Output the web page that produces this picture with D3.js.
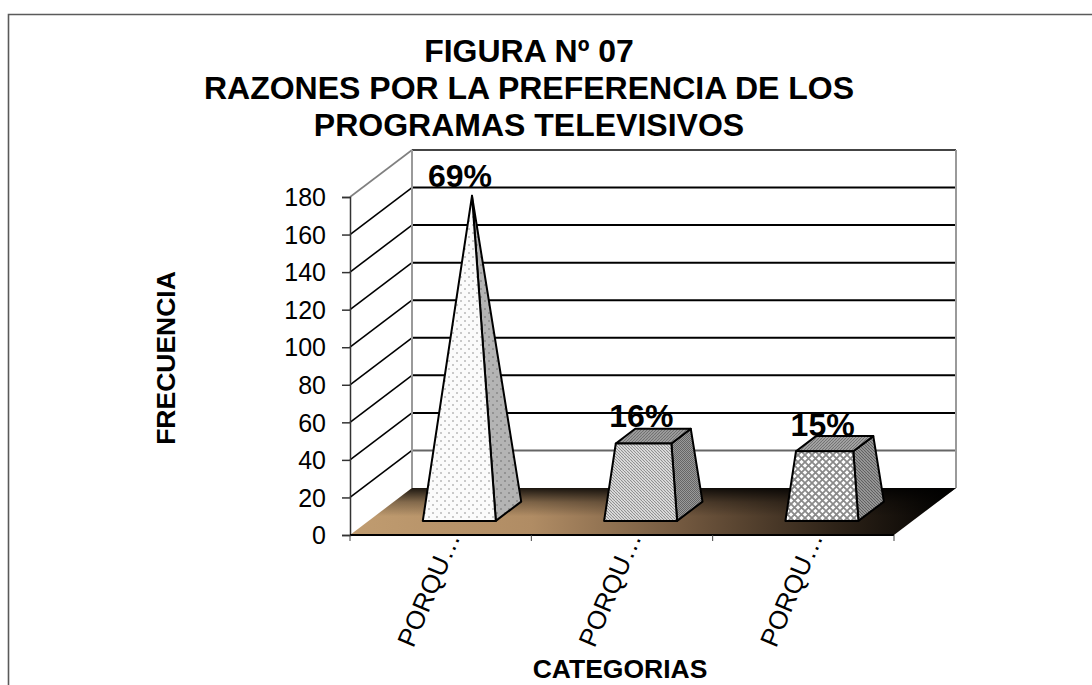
<!DOCTYPE html>
<html><head><meta charset="utf-8">
<script src="https://cdnjs.cloudflare.com/ajax/libs/d3/7.8.5/d3.min.js"></script>
<style>html,body{margin:0;padding:0;background:#fff}svg{display:block}text{font-family:"Liberation Sans",Arial,sans-serif;fill:#000}</style>
</head><body><svg id="c" width="1092" height="685"></svg>
<script>
const categories = ["PORQU…","PORQU…","PORQU…"];
const values = [168,40,36];
const percentLabels = ["69%","16%","15%"];
const yTicks = [0,20,40,60,80,100,120,140,160,180];
const titleLines = ["FIGURA Nº 07","RAZONES POR LA PREFERENCIA DE LOS","PROGRAMAS TELEVISIVOS"];
const xTitle = "CATEGORIAS", yTitle = "FRECUENCIA";

const svg = d3.select("#c");
const x = d3.scaleBand().domain(d3.range(categories.length)).range([350,894]);
const y = d3.scaleLinear().domain([0,180]).range([535,197]);
const DX = 62, DY = -47;
const barW = 73, z0 = 0.3, z1 = 0.71;
const vMax = d3.max(values);
const P = (px,py,z)=>[px+z*DX, py+z*DY];
const pts = a=>a.map(p=>p.map(v=>v.toFixed(1)).join(",")).join(" ");

const defs = svg.append("defs");
const pat=(id,s,bg,draw)=>{const p=defs.append("pattern").attr("id",id).attr("patternUnits","userSpaceOnUse").attr("width",s).attr("height",s);
  p.append("rect").attr("width",s).attr("height",s).attr("fill",bg);draw(p);};
pat("dotsF",8,"#fbfbfb",p=>{[[1,1],[5,5]].forEach(c=>p.append("circle").attr("cx",c[0]).attr("cy",c[1]).attr("r",.8).attr("fill","#8a8a8a"));});
pat("dotsS",8,"#b4b4b4",p=>{[[1,1],[5,5]].forEach(c=>p.append("circle").attr("cx",c[0]).attr("cy",c[1]).attr("r",.8).attr("fill","#6a6a6a"));});
const stripes=(id,bg,col,w,s,dir)=>pat(id,s,bg,p=>{
  const d=dir>0?`M0,0L${s},${s}M${-s},0L0,${s}M0,${-s}L${s},0`:`M0,${s}L${s},0M${-s},${s}L0,0M0,${2*s}L${s},${s}`;
  p.append("path").attr("d",d).attr("stroke",col).attr("stroke-width",w);});
stripes("stF","#f0f0f0","#8c8c8c",1.1,3,1);
stripes("stS","#9a9a9a","#666",1,2,1);
stripes("stT","#a8a8a8","#6e6e6e",1.1,3,-1);
pat("lat",7,"#fff",p=>{p.append("path").attr("d","M0,0L7,7M0,7L7,0").attr("stroke","#8a8a8a").attr("stroke-width",1.8);});
stripes("latS","#a6a6a6","#5c5c5c",1.1,3,1);
stripes("latT","#b0b0b0","#707070",1.1,3,-1);
const fills=[{f:"url(#dotsF)",s:"url(#dotsS)",t:"#aaa"},{f:"url(#stF)",s:"url(#stS)",t:"url(#stT)"},{f:"url(#lat)",s:"url(#latS)",t:"url(#latT)"}];

const g1=defs.append("linearGradient").attr("id","fh").attr("x1",0).attr("x2",1).attr("y1",0).attr("y2",0);
[[0,"#c09c70"],[.3,"#b08c64"],[.55,"#72583f"],[.8,"#2e2318"],[1,"#000"]].forEach(s=>g1.append("stop").attr("offset",s[0]).attr("stop-color",s[1]));
const g2=defs.append("linearGradient").attr("id","fv").attr("x1",0).attr("x2",0).attr("y1",0).attr("y2",1);
[[0,"#000",.85],[.3,"#000",.3],[.6,"#000",0],[1,"#000",0]].forEach(s=>g2.append("stop").attr("offset",s[0]).attr("stop-color",s[1]).attr("stop-opacity",s[2]));

// outer frame: only the top and left edges fall inside the picture
svg.append("path").attr("d","M8.5,685V14.5H1092").attr("fill","none").attr("stroke","#5a5a5a").attr("stroke-width",1.6);

// walls
const xL=x.range()[0], xR=x.range()[1], y0=y(0), yT=y(180);
const gray="#9a9a9a";
svg.selectAll(".gl").data(yTicks.slice(1)).join("path").attr("fill","none")
  .attr("stroke",d=>d===180?"#808080":"#000").attr("stroke-width",1.6)
  .attr("d",d=>d3.line()([P(xL,y(d),0),P(xL,y(d),1)]));
svg.selectAll(".glb").data(yTicks.slice(1)).join("path").attr("fill","none")
  .attr("stroke",d=>d===180?"#444":d===20?"#666":"#000").attr("stroke-width",2)
  .attr("d",d=>d3.line()([P(xL,y(d),1),P(xR,y(d),1)]));
svg.append("path").attr("fill","none").attr("stroke",gray).attr("stroke-width",2)
  .attr("d",d3.line()([P(xL,yT,1),P(xL,y0,1)]));
svg.append("path").attr("fill","none").attr("stroke",gray).attr("stroke-width",2)
  .attr("d",d3.line()([P(xR,yT,1),P(xR,y0,1)]));

// floor
const floor=pts([P(xL,y0,0),P(xL,y0,1),P(xR,y0,1),P(xR,y0,0)]);
svg.append("polygon").attr("points",floor).attr("fill","url(#fh)");
svg.append("polygon").attr("points",floor).attr("fill","url(#fv)");

// axes
const yAxis=d3.axisLeft(y).tickValues(yTicks).tickSize(8).tickPadding(16);
const ay=svg.append("g").attr("transform",`translate(${xL},0)`).call(yAxis);
ay.selectAll("text").style("font-size","25px").attr("dy","0.35em");
ay.selectAll("path,line").attr("stroke","#333").attr("stroke-width",1.5);
const ax=svg.append("g").attr("transform",`translate(0,${y0})`);
ax.append("path").attr("d",`M${xL},0H${xR}`).attr("stroke","#000").attr("stroke-width",2.2);
ax.selectAll("line").data(d3.range(categories.length+1)).join("line")
  .attr("x1",i=>xL+i*x.step()).attr("x2",i=>xL+i*x.step()).attr("y1",0).attr("y2",6).attr("stroke","#444").attr("stroke-width",1);
ax.selectAll("text").data(categories).join("text")
  .attr("transform",(d,i)=>`translate(${x(i)+x.bandwidth()/2+20},2) rotate(-67)`)
  .attr("text-anchor","end").style("font-size","26px").text(d=>d);

// bars
const labelDy=[-9,-9,-8];
categories.forEach((c,i)=>{
  const cx=x(i)+x.bandwidth()/2, zc=(z0+z1)/2, v=values[i], t=v/vMax, f=fills[i];
  const hw=barW/2, hz=(z1-z0)/2;
  const c3=(sx,sz,val,tt)=>P(cx+sx*hw*(1-tt),y(val),zc+sz*hz*(1-tt));
  const g=svg.append("g").attr("stroke","#000").attr("stroke-width",2).attr("stroke-linejoin","round");
  const fl=c3(-1,-1,0,0),fr=c3(1,-1,0,0),br=c3(1,1,0,0);
  const tfl=c3(-1,-1,v,t),tfr=c3(1,-1,v,t),tbr=c3(1,1,v,t),tbl=c3(-1,1,v,t);
  g.append("polygon").attr("points",pts([fr,br,tbr,tfr])).attr("fill",f.s);
  if(t<1) g.append("polygon").attr("points",pts([tfl,tfr,tbr,tbl])).attr("fill",f.t);
  g.append("polygon").attr("points",pts([fl,fr,tfr,tfl])).attr("fill",f.f);
  const top=P(cx,y(v),zc);
  svg.append("text").attr("x",top[0]-12).attr("y",top[1]+labelDy[i]).attr("text-anchor","middle")
    .style("font-size","32px").style("font-weight","bold").text(percentLabels[i]);
});

// titles
svg.selectAll(".t").data(titleLines).join("text").attr("x",529).attr("y",(d,i)=>62+i*37)
  .attr("text-anchor","middle").style("font-size","32px").style("font-weight","bold").text(d=>d);
svg.append("text").attr("x",620).attr("y",678).attr("text-anchor","middle").style("font-size","26.5px").style("font-weight","bold").text(xTitle);
svg.append("text").attr("transform","translate(175,358) rotate(-90)").attr("text-anchor","middle").style("font-size","26.5px").style("font-weight","bold").text(yTitle);
</script></body></html>
